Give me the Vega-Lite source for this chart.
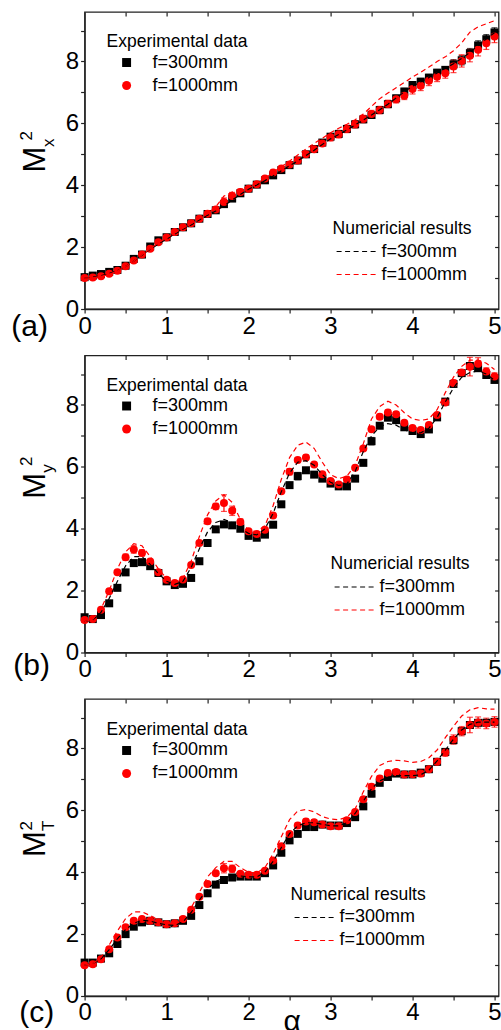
{
"$schema":"https://vega.github.io/schema/vega-lite/v6.json",
"padding":{"left":10.6,"top":10,"right":0,"bottom":0},
"background":"white",
"config":{"font":"Liberation Sans","view":{"stroke":"#222","strokeWidth":1.3},
"axis":{"grid":false,"domainColor":"#222","domainWidth":1.3,"tickColor":"#222","tickWidth":1.2,"tickSize":4,"labelFontSize":24,"labelColor":"#000","labelFont":"Liberation Sans","titleFont":"Liberation Sans","titleColor":"#000","titleFontWeight":"normal","labelFlush":false,"labelOverlap":false},
"legend":{"titleFontWeight":"normal","titleColor":"#000","labelColor":"#000","titleFont":"Liberation Sans","labelFont":"Liberation Sans"}},
"datasets":{
"ea":[
{"x":0,"s":"f=300mm","v":1.03,"e":0.04},{"x":0.1,"s":"f=300mm","v":1.08,"e":0.04},{"x":0.2,"s":"f=300mm","v":1.13,"e":0.04},{"x":0.3,"s":"f=300mm","v":1.2,"e":0.04},{"x":0.4,"s":"f=300mm","v":1.26,"e":0.04},{"x":0.5,"s":"f=300mm","v":1.4,"e":0.04},{"x":0.6,"s":"f=300mm","v":1.62,"e":0.04},{"x":0.7,"s":"f=300mm","v":1.76,"e":0.04},{"x":0.8,"s":"f=300mm","v":2.02,"e":0.04},{"x":0.9,"s":"f=300mm","v":2.22,"e":0.04},{"x":1.0,"s":"f=300mm","v":2.32,"e":0.04},{"x":1.1,"s":"f=300mm","v":2.49,"e":0.04},{"x":1.2,"s":"f=300mm","v":2.64,"e":0.04},{"x":1.3,"s":"f=300mm","v":2.77,"e":0.04},{"x":1.4,"s":"f=300mm","v":2.92,"e":0.04},{"x":1.5,"s":"f=300mm","v":3.07,"e":0.04},{"x":1.6,"s":"f=300mm","v":3.19,"e":0.04},{"x":1.7,"s":"f=300mm","v":3.39,"e":0.04},{"x":1.8,"s":"f=300mm","v":3.57,"e":0.04},{"x":1.9,"s":"f=300mm","v":3.74,"e":0.04},{"x":2.0,"s":"f=300mm","v":3.89,"e":0.06},{"x":2.1,"s":"f=300mm","v":4.02,"e":0.06},{"x":2.2,"s":"f=300mm","v":4.16,"e":0.06},{"x":2.3,"s":"f=300mm","v":4.32,"e":0.06},{"x":2.4,"s":"f=300mm","v":4.49,"e":0.06},{"x":2.5,"s":"f=300mm","v":4.65,"e":0.06},{"x":2.6,"s":"f=300mm","v":4.8,"e":0.06},{"x":2.7,"s":"f=300mm","v":5.0,"e":0.06},{"x":2.8,"s":"f=300mm","v":5.17,"e":0.06},{"x":2.9,"s":"f=300mm","v":5.38,"e":0.06},{"x":3.0,"s":"f=300mm","v":5.57,"e":0.06},{"x":3.1,"s":"f=300mm","v":5.66,"e":0.06},{"x":3.2,"s":"f=300mm","v":5.82,"e":0.06},{"x":3.3,"s":"f=300mm","v":5.97,"e":0.06},{"x":3.4,"s":"f=300mm","v":6.13,"e":0.06},{"x":3.5,"s":"f=300mm","v":6.27,"e":0.1},{"x":3.6,"s":"f=300mm","v":6.43,"e":0.1},{"x":3.7,"s":"f=300mm","v":6.62,"e":0.1},{"x":3.8,"s":"f=300mm","v":6.81,"e":0.1},{"x":3.9,"s":"f=300mm","v":7.03,"e":0.1},{"x":4.0,"s":"f=300mm","v":7.24,"e":0.1},{"x":4.1,"s":"f=300mm","v":7.35,"e":0.1},{"x":4.2,"s":"f=300mm","v":7.48,"e":0.1},{"x":4.3,"s":"f=300mm","v":7.64,"e":0.1},{"x":4.4,"s":"f=300mm","v":7.73,"e":0.1},{"x":4.5,"s":"f=300mm","v":7.91,"e":0.15},{"x":4.6,"s":"f=300mm","v":8.04,"e":0.15},{"x":4.7,"s":"f=300mm","v":8.27,"e":0.15},{"x":4.8,"s":"f=300mm","v":8.52,"e":0.15},{"x":4.9,"s":"f=300mm","v":8.72,"e":0.15},{"x":5.0,"s":"f=300mm","v":8.94,"e":0.15},
{"x":0,"s":"f=1000mm","v":1.0,"e":0.04},{"x":0.1,"s":"f=1000mm","v":1.02,"e":0.04},{"x":0.2,"s":"f=1000mm","v":1.06,"e":0.04},{"x":0.3,"s":"f=1000mm","v":1.14,"e":0.04},{"x":0.4,"s":"f=1000mm","v":1.24,"e":0.04},{"x":0.5,"s":"f=1000mm","v":1.38,"e":0.04},{"x":0.6,"s":"f=1000mm","v":1.57,"e":0.04},{"x":0.7,"s":"f=1000mm","v":1.76,"e":0.04},{"x":0.8,"s":"f=1000mm","v":1.95,"e":0.04},{"x":0.9,"s":"f=1000mm","v":2.16,"e":0.04},{"x":1.0,"s":"f=1000mm","v":2.31,"e":0.04},{"x":1.1,"s":"f=1000mm","v":2.49,"e":0.04},{"x":1.2,"s":"f=1000mm","v":2.64,"e":0.04},{"x":1.3,"s":"f=1000mm","v":2.77,"e":0.04},{"x":1.4,"s":"f=1000mm","v":2.92,"e":0.04},{"x":1.5,"s":"f=1000mm","v":3.08,"e":0.04},{"x":1.6,"s":"f=1000mm","v":3.22,"e":0.08},{"x":1.7,"s":"f=1000mm","v":3.46,"e":0.13},{"x":1.8,"s":"f=1000mm","v":3.65,"e":0.12},{"x":1.9,"s":"f=1000mm","v":3.78,"e":0.1},{"x":2.0,"s":"f=1000mm","v":3.89,"e":0.07},{"x":2.1,"s":"f=1000mm","v":4.03,"e":0.07},{"x":2.2,"s":"f=1000mm","v":4.22,"e":0.07},{"x":2.3,"s":"f=1000mm","v":4.41,"e":0.07},{"x":2.4,"s":"f=1000mm","v":4.54,"e":0.07},{"x":2.5,"s":"f=1000mm","v":4.67,"e":0.07},{"x":2.6,"s":"f=1000mm","v":4.8,"e":0.07},{"x":2.7,"s":"f=1000mm","v":5.0,"e":0.07},{"x":2.8,"s":"f=1000mm","v":5.16,"e":0.07},{"x":2.9,"s":"f=1000mm","v":5.35,"e":0.07},{"x":3.0,"s":"f=1000mm","v":5.55,"e":0.12},{"x":3.1,"s":"f=1000mm","v":5.65,"e":0.12},{"x":3.2,"s":"f=1000mm","v":5.82,"e":0.12},{"x":3.3,"s":"f=1000mm","v":5.97,"e":0.12},{"x":3.4,"s":"f=1000mm","v":6.14,"e":0.12},{"x":3.5,"s":"f=1000mm","v":6.3,"e":0.12},{"x":3.6,"s":"f=1000mm","v":6.43,"e":0.12},{"x":3.7,"s":"f=1000mm","v":6.63,"e":0.12},{"x":3.8,"s":"f=1000mm","v":6.78,"e":0.12},{"x":3.9,"s":"f=1000mm","v":6.89,"e":0.12},{"x":4.0,"s":"f=1000mm","v":7.11,"e":0.16},{"x":4.1,"s":"f=1000mm","v":7.22,"e":0.16},{"x":4.2,"s":"f=1000mm","v":7.38,"e":0.16},{"x":4.3,"s":"f=1000mm","v":7.51,"e":0.16},{"x":4.4,"s":"f=1000mm","v":7.62,"e":0.16},{"x":4.5,"s":"f=1000mm","v":7.84,"e":0.2},{"x":4.6,"s":"f=1000mm","v":8.02,"e":0.2},{"x":4.7,"s":"f=1000mm","v":8.19,"e":0.2},{"x":4.8,"s":"f=1000mm","v":8.38,"e":0.2},{"x":4.9,"s":"f=1000mm","v":8.59,"e":0.2},{"x":5.0,"s":"f=1000mm","v":8.81,"e":0.2}
],
"eb":[
{"x":0,"s":"f=300mm","v":1.14,"e":0.04},{"x":0.1,"s":"f=300mm","v":1.08,"e":0.04},{"x":0.2,"s":"f=300mm","v":1.21,"e":0.04},{"x":0.3,"s":"f=300mm","v":1.59,"e":0.04},{"x":0.4,"s":"f=300mm","v":2.09,"e":0.04},{"x":0.5,"s":"f=300mm","v":2.59,"e":0.04},{"x":0.6,"s":"f=300mm","v":2.89,"e":0.04},{"x":0.7,"s":"f=300mm","v":2.92,"e":0.04},{"x":0.8,"s":"f=300mm","v":2.79,"e":0.04},{"x":0.9,"s":"f=300mm","v":2.57,"e":0.04},{"x":1.0,"s":"f=300mm","v":2.3,"e":0.04},{"x":1.1,"s":"f=300mm","v":2.18,"e":0.04},{"x":1.2,"s":"f=300mm","v":2.22,"e":0.04},{"x":1.3,"s":"f=300mm","v":2.41,"e":0.04},{"x":1.4,"s":"f=300mm","v":2.95,"e":0.04},{"x":1.5,"s":"f=300mm","v":3.54,"e":0.04},{"x":1.6,"s":"f=300mm","v":3.98,"e":0.04},{"x":1.7,"s":"f=300mm","v":4.14,"e":0.04},{"x":1.8,"s":"f=300mm","v":4.11,"e":0.04},{"x":1.9,"s":"f=300mm","v":4.0,"e":0.04},{"x":2.0,"s":"f=300mm","v":3.77,"e":0.04},{"x":2.1,"s":"f=300mm","v":3.71,"e":0.04},{"x":2.2,"s":"f=300mm","v":3.81,"e":0.04},{"x":2.3,"s":"f=300mm","v":4.13,"e":0.04},{"x":2.4,"s":"f=300mm","v":4.79,"e":0.04},{"x":2.5,"s":"f=300mm","v":5.41,"e":0.04},{"x":2.6,"s":"f=300mm","v":5.7,"e":0.12},{"x":2.7,"s":"f=300mm","v":5.89,"e":0.08},{"x":2.8,"s":"f=300mm","v":5.75,"e":0.04},{"x":2.9,"s":"f=300mm","v":5.62,"e":0.04},{"x":3.0,"s":"f=300mm","v":5.46,"e":0.04},{"x":3.1,"s":"f=300mm","v":5.37,"e":0.04},{"x":3.2,"s":"f=300mm","v":5.37,"e":0.04},{"x":3.3,"s":"f=300mm","v":5.62,"e":0.04},{"x":3.4,"s":"f=300mm","v":6.13,"e":0.04},{"x":3.5,"s":"f=300mm","v":6.83,"e":0.12},{"x":3.6,"s":"f=300mm","v":7.33,"e":0.04},{"x":3.7,"s":"f=300mm","v":7.59,"e":0.04},{"x":3.8,"s":"f=300mm","v":7.51,"e":0.04},{"x":3.9,"s":"f=300mm","v":7.28,"e":0.04},{"x":4.0,"s":"f=300mm","v":7.16,"e":0.04},{"x":4.1,"s":"f=300mm","v":7.06,"e":0.04},{"x":4.2,"s":"f=300mm","v":7.21,"e":0.04},{"x":4.3,"s":"f=300mm","v":7.6,"e":0.04},{"x":4.4,"s":"f=300mm","v":8.11,"e":0.04},{"x":4.5,"s":"f=300mm","v":8.68,"e":0.04},{"x":4.6,"s":"f=300mm","v":9.03,"e":0.04},{"x":4.7,"s":"f=300mm","v":9.26,"e":0.1},{"x":4.8,"s":"f=300mm","v":9.19,"e":0.06},{"x":4.9,"s":"f=300mm","v":8.97,"e":0.04},{"x":5.0,"s":"f=300mm","v":8.81,"e":0.04},
{"x":0,"s":"f=1000mm","v":1.05,"e":0.05},{"x":0.1,"s":"f=1000mm","v":1.08,"e":0.05},{"x":0.2,"s":"f=1000mm","v":1.38,"e":0.05},{"x":0.3,"s":"f=1000mm","v":1.98,"e":0.05},{"x":0.4,"s":"f=1000mm","v":2.59,"e":0.05},{"x":0.5,"s":"f=1000mm","v":3.08,"e":0.1},{"x":0.6,"s":"f=1000mm","v":3.33,"e":0.12},{"x":0.7,"s":"f=1000mm","v":3.22,"e":0.1},{"x":0.8,"s":"f=1000mm","v":2.94,"e":0.05},{"x":0.9,"s":"f=1000mm","v":2.59,"e":0.05},{"x":1.0,"s":"f=1000mm","v":2.35,"e":0.05},{"x":1.1,"s":"f=1000mm","v":2.25,"e":0.05},{"x":1.2,"s":"f=1000mm","v":2.36,"e":0.05},{"x":1.3,"s":"f=1000mm","v":2.83,"e":0.05},{"x":1.4,"s":"f=1000mm","v":3.54,"e":0.05},{"x":1.5,"s":"f=1000mm","v":4.24,"e":0.08},{"x":1.6,"s":"f=1000mm","v":4.72,"e":0.1},{"x":1.7,"s":"f=1000mm","v":4.83,"e":0.27},{"x":1.8,"s":"f=1000mm","v":4.58,"e":0.15},{"x":1.9,"s":"f=1000mm","v":4.22,"e":0.1},{"x":2.0,"s":"f=1000mm","v":3.92,"e":0.05},{"x":2.1,"s":"f=1000mm","v":3.83,"e":0.05},{"x":2.2,"s":"f=1000mm","v":3.97,"e":0.05},{"x":2.3,"s":"f=1000mm","v":4.43,"e":0.05},{"x":2.4,"s":"f=1000mm","v":5.21,"e":0.05},{"x":2.5,"s":"f=1000mm","v":5.84,"e":0.1},{"x":2.6,"s":"f=1000mm","v":6.22,"e":0.08},{"x":2.7,"s":"f=1000mm","v":6.3,"e":0.08},{"x":2.8,"s":"f=1000mm","v":6.08,"e":0.05},{"x":2.9,"s":"f=1000mm","v":5.76,"e":0.05},{"x":3.0,"s":"f=1000mm","v":5.54,"e":0.05},{"x":3.1,"s":"f=1000mm","v":5.43,"e":0.05},{"x":3.2,"s":"f=1000mm","v":5.59,"e":0.05},{"x":3.3,"s":"f=1000mm","v":5.97,"e":0.05},{"x":3.4,"s":"f=1000mm","v":6.59,"e":0.05},{"x":3.5,"s":"f=1000mm","v":7.22,"e":0.05},{"x":3.6,"s":"f=1000mm","v":7.62,"e":0.08},{"x":3.7,"s":"f=1000mm","v":7.76,"e":0.08},{"x":3.8,"s":"f=1000mm","v":7.7,"e":0.08},{"x":3.9,"s":"f=1000mm","v":7.43,"e":0.05},{"x":4.0,"s":"f=1000mm","v":7.26,"e":0.05},{"x":4.1,"s":"f=1000mm","v":7.19,"e":0.05},{"x":4.2,"s":"f=1000mm","v":7.35,"e":0.05},{"x":4.3,"s":"f=1000mm","v":7.68,"e":0.05},{"x":4.4,"s":"f=1000mm","v":8.08,"e":0.05},{"x":4.5,"s":"f=1000mm","v":8.71,"e":0.1},{"x":4.6,"s":"f=1000mm","v":9.05,"e":0.08},{"x":4.7,"s":"f=1000mm","v":9.24,"e":0.3},{"x":4.8,"s":"f=1000mm","v":9.33,"e":0.2},{"x":4.9,"s":"f=1000mm","v":9.08,"e":0.12},{"x":5.0,"s":"f=1000mm","v":8.92,"e":0.12}
],
"ec":[
{"x":0,"s":"f=300mm","v":1.08,"e":0.04},{"x":0.1,"s":"f=300mm","v":1.08,"e":0.04},{"x":0.2,"s":"f=300mm","v":1.21,"e":0.04},{"x":0.3,"s":"f=300mm","v":1.38,"e":0.04},{"x":0.4,"s":"f=300mm","v":1.68,"e":0.04},{"x":0.5,"s":"f=300mm","v":2.0,"e":0.04},{"x":0.6,"s":"f=300mm","v":2.24,"e":0.04},{"x":0.7,"s":"f=300mm","v":2.38,"e":0.04},{"x":0.8,"s":"f=300mm","v":2.43,"e":0.04},{"x":0.9,"s":"f=300mm","v":2.38,"e":0.04},{"x":1.0,"s":"f=300mm","v":2.32,"e":0.04},{"x":1.1,"s":"f=300mm","v":2.35,"e":0.04},{"x":1.2,"s":"f=300mm","v":2.43,"e":0.04},{"x":1.3,"s":"f=300mm","v":2.59,"e":0.04},{"x":1.4,"s":"f=300mm","v":2.94,"e":0.04},{"x":1.5,"s":"f=300mm","v":3.32,"e":0.04},{"x":1.6,"s":"f=300mm","v":3.6,"e":0.04},{"x":1.7,"s":"f=300mm","v":3.75,"e":0.04},{"x":1.8,"s":"f=300mm","v":3.83,"e":0.04},{"x":1.9,"s":"f=300mm","v":3.86,"e":0.04},{"x":2.0,"s":"f=300mm","v":3.86,"e":0.04},{"x":2.1,"s":"f=300mm","v":3.86,"e":0.04},{"x":2.2,"s":"f=300mm","v":3.97,"e":0.04},{"x":2.3,"s":"f=300mm","v":4.22,"e":0.04},{"x":2.4,"s":"f=300mm","v":4.63,"e":0.04},{"x":2.5,"s":"f=300mm","v":5.03,"e":0.04},{"x":2.6,"s":"f=300mm","v":5.24,"e":0.08},{"x":2.7,"s":"f=300mm","v":5.46,"e":0.04},{"x":2.8,"s":"f=300mm","v":5.46,"e":0.04},{"x":2.9,"s":"f=300mm","v":5.54,"e":0.04},{"x":3.0,"s":"f=300mm","v":5.51,"e":0.04},{"x":3.1,"s":"f=300mm","v":5.51,"e":0.04},{"x":3.2,"s":"f=300mm","v":5.59,"e":0.04},{"x":3.3,"s":"f=300mm","v":5.78,"e":0.04},{"x":3.4,"s":"f=300mm","v":6.13,"e":0.04},{"x":3.5,"s":"f=300mm","v":6.54,"e":0.1},{"x":3.6,"s":"f=300mm","v":6.89,"e":0.04},{"x":3.7,"s":"f=300mm","v":7.08,"e":0.04},{"x":3.8,"s":"f=300mm","v":7.19,"e":0.04},{"x":3.9,"s":"f=300mm","v":7.16,"e":0.04},{"x":4.0,"s":"f=300mm","v":7.16,"e":0.04},{"x":4.1,"s":"f=300mm","v":7.22,"e":0.04},{"x":4.2,"s":"f=300mm","v":7.33,"e":0.04},{"x":4.3,"s":"f=300mm","v":7.57,"e":0.04},{"x":4.4,"s":"f=300mm","v":7.89,"e":0.04},{"x":4.5,"s":"f=300mm","v":8.27,"e":0.04},{"x":4.6,"s":"f=300mm","v":8.56,"e":0.04},{"x":4.7,"s":"f=300mm","v":8.76,"e":0.1},{"x":4.8,"s":"f=300mm","v":8.83,"e":0.04},{"x":4.9,"s":"f=300mm","v":8.83,"e":0.04},{"x":5.0,"s":"f=300mm","v":8.86,"e":0.04},
{"x":0,"s":"f=1000mm","v":0.99,"e":0.05},{"x":0.1,"s":"f=1000mm","v":1.03,"e":0.05},{"x":0.2,"s":"f=1000mm","v":1.19,"e":0.05},{"x":0.3,"s":"f=1000mm","v":1.51,"e":0.05},{"x":0.4,"s":"f=1000mm","v":1.89,"e":0.05},{"x":0.5,"s":"f=1000mm","v":2.22,"e":0.05},{"x":0.6,"s":"f=1000mm","v":2.43,"e":0.05},{"x":0.7,"s":"f=1000mm","v":2.49,"e":0.05},{"x":0.8,"s":"f=1000mm","v":2.43,"e":0.05},{"x":0.9,"s":"f=1000mm","v":2.38,"e":0.05},{"x":1.0,"s":"f=1000mm","v":2.32,"e":0.05},{"x":1.1,"s":"f=1000mm","v":2.35,"e":0.05},{"x":1.2,"s":"f=1000mm","v":2.49,"e":0.05},{"x":1.3,"s":"f=1000mm","v":2.79,"e":0.05},{"x":1.4,"s":"f=1000mm","v":3.21,"e":0.05},{"x":1.5,"s":"f=1000mm","v":3.62,"e":0.05},{"x":1.6,"s":"f=1000mm","v":3.97,"e":0.05},{"x":1.7,"s":"f=1000mm","v":4.13,"e":0.15},{"x":1.8,"s":"f=1000mm","v":4.11,"e":0.12},{"x":1.9,"s":"f=1000mm","v":3.95,"e":0.05},{"x":2.0,"s":"f=1000mm","v":3.92,"e":0.05},{"x":2.1,"s":"f=1000mm","v":3.92,"e":0.05},{"x":2.2,"s":"f=1000mm","v":4.05,"e":0.05},{"x":2.3,"s":"f=1000mm","v":4.38,"e":0.05},{"x":2.4,"s":"f=1000mm","v":4.84,"e":0.05},{"x":2.5,"s":"f=1000mm","v":5.24,"e":0.05},{"x":2.6,"s":"f=1000mm","v":5.51,"e":0.08},{"x":2.7,"s":"f=1000mm","v":5.64,"e":0.08},{"x":2.8,"s":"f=1000mm","v":5.62,"e":0.08},{"x":2.9,"s":"f=1000mm","v":5.54,"e":0.05},{"x":3.0,"s":"f=1000mm","v":5.49,"e":0.05},{"x":3.1,"s":"f=1000mm","v":5.49,"e":0.05},{"x":3.2,"s":"f=1000mm","v":5.68,"e":0.05},{"x":3.3,"s":"f=1000mm","v":5.95,"e":0.05},{"x":3.4,"s":"f=1000mm","v":6.36,"e":0.05},{"x":3.5,"s":"f=1000mm","v":6.76,"e":0.08},{"x":3.6,"s":"f=1000mm","v":7.03,"e":0.08},{"x":3.7,"s":"f=1000mm","v":7.21,"e":0.08},{"x":3.8,"s":"f=1000mm","v":7.24,"e":0.08},{"x":3.9,"s":"f=1000mm","v":7.16,"e":0.05},{"x":4.0,"s":"f=1000mm","v":7.17,"e":0.1},{"x":4.1,"s":"f=1000mm","v":7.19,"e":0.1},{"x":4.2,"s":"f=1000mm","v":7.33,"e":0.1},{"x":4.3,"s":"f=1000mm","v":7.57,"e":0.1},{"x":4.4,"s":"f=1000mm","v":7.87,"e":0.12},{"x":4.5,"s":"f=1000mm","v":8.29,"e":0.15},{"x":4.6,"s":"f=1000mm","v":8.56,"e":0.15},{"x":4.7,"s":"f=1000mm","v":8.76,"e":0.25},{"x":4.8,"s":"f=1000mm","v":8.84,"e":0.18},{"x":4.9,"s":"f=1000mm","v":8.81,"e":0.17},{"x":5.0,"s":"f=1000mm","v":8.86,"e":0.17}
],
"na":[
{"x":0,"n":"300","v":1.0},{"x":0.1,"n":"300","v":1.03},{"x":0.2,"n":"300","v":1.08},{"x":0.3,"n":"300","v":1.15},{"x":0.4,"n":"300","v":1.24},{"x":0.5,"n":"300","v":1.37},{"x":0.6,"n":"300","v":1.55},{"x":0.7,"n":"300","v":1.74},{"x":0.8,"n":"300","v":1.93},{"x":0.9,"n":"300","v":2.1},{"x":1.0,"n":"300","v":2.26},{"x":1.1,"n":"300","v":2.42},{"x":1.2,"n":"300","v":2.58},{"x":1.3,"n":"300","v":2.72},{"x":1.4,"n":"300","v":2.88},{"x":1.5,"n":"300","v":3.03},{"x":1.6,"n":"300","v":3.17},{"x":1.7,"n":"300","v":3.33},{"x":1.8,"n":"300","v":3.52},{"x":1.9,"n":"300","v":3.7},{"x":2.0,"n":"300","v":3.87},{"x":2.1,"n":"300","v":4.01},{"x":2.2,"n":"300","v":4.15},{"x":2.3,"n":"300","v":4.3},{"x":2.4,"n":"300","v":4.47},{"x":2.5,"n":"300","v":4.63},{"x":2.6,"n":"300","v":4.79},{"x":2.7,"n":"300","v":4.96},{"x":2.8,"n":"300","v":5.13},{"x":2.9,"n":"300","v":5.32},{"x":3.0,"n":"300","v":5.5},{"x":3.1,"n":"300","v":5.64},{"x":3.2,"n":"300","v":5.79},{"x":3.3,"n":"300","v":5.95},{"x":3.4,"n":"300","v":6.11},{"x":3.5,"n":"300","v":6.27},{"x":3.6,"n":"300","v":6.44},{"x":3.7,"n":"300","v":6.62},{"x":3.8,"n":"300","v":6.82},{"x":3.9,"n":"300","v":7.02},{"x":4.0,"n":"300","v":7.2},{"x":4.1,"n":"300","v":7.34},{"x":4.2,"n":"300","v":7.48},{"x":4.3,"n":"300","v":7.63},{"x":4.4,"n":"300","v":7.78},{"x":4.5,"n":"300","v":7.93},{"x":4.6,"n":"300","v":8.1},{"x":4.7,"n":"300","v":8.3},{"x":4.8,"n":"300","v":8.52},{"x":4.9,"n":"300","v":8.73},{"x":5.0,"n":"300","v":8.93},
{"x":0,"n":"1000","v":1.0},{"x":0.1,"n":"1000","v":1.01},{"x":0.2,"n":"1000","v":1.05},{"x":0.3,"n":"1000","v":1.12},{"x":0.4,"n":"1000","v":1.23},{"x":0.5,"n":"1000","v":1.37},{"x":0.6,"n":"1000","v":1.55},{"x":0.7,"n":"1000","v":1.75},{"x":0.8,"n":"1000","v":1.95},{"x":0.9,"n":"1000","v":2.14},{"x":1.0,"n":"1000","v":2.3},{"x":1.1,"n":"1000","v":2.46},{"x":1.2,"n":"1000","v":2.61},{"x":1.3,"n":"1000","v":2.76},{"x":1.4,"n":"1000","v":2.92},{"x":1.5,"n":"1000","v":3.08},{"x":1.6,"n":"1000","v":3.3},{"x":1.7,"n":"1000","v":3.65},{"x":1.8,"n":"1000","v":3.78},{"x":1.9,"n":"1000","v":3.88},{"x":2.0,"n":"1000","v":3.95},{"x":2.1,"n":"1000","v":4.05},{"x":2.2,"n":"1000","v":4.22},{"x":2.3,"n":"1000","v":4.42},{"x":2.4,"n":"1000","v":4.6},{"x":2.5,"n":"1000","v":4.78},{"x":2.6,"n":"1000","v":4.98},{"x":2.7,"n":"1000","v":5.17},{"x":2.8,"n":"1000","v":5.35},{"x":2.9,"n":"1000","v":5.52},{"x":3.0,"n":"1000","v":5.7},{"x":3.1,"n":"1000","v":5.84},{"x":3.2,"n":"1000","v":5.97},{"x":3.3,"n":"1000","v":6.12},{"x":3.4,"n":"1000","v":6.3},{"x":3.5,"n":"1000","v":6.55},{"x":3.6,"n":"1000","v":6.8},{"x":3.7,"n":"1000","v":6.98},{"x":3.8,"n":"1000","v":7.15},{"x":3.9,"n":"1000","v":7.32},{"x":4.0,"n":"1000","v":7.5},{"x":4.1,"n":"1000","v":7.65},{"x":4.2,"n":"1000","v":7.82},{"x":4.3,"n":"1000","v":8.0},{"x":4.4,"n":"1000","v":8.15},{"x":4.5,"n":"1000","v":8.35},{"x":4.6,"n":"1000","v":8.6},{"x":4.7,"n":"1000","v":8.95},{"x":4.8,"n":"1000","v":9.12},{"x":4.9,"n":"1000","v":9.22},{"x":5.0,"n":"1000","v":9.32}
],
"nb":[
{"x":0,"n":"300","v":1.0},{"x":0.1,"n":"300","v":1.05},{"x":0.2,"n":"300","v":1.3},{"x":0.3,"n":"300","v":1.75},{"x":0.4,"n":"300","v":2.3},{"x":0.5,"n":"300","v":2.8},{"x":0.6,"n":"300","v":3.1},{"x":0.7,"n":"300","v":3.1},{"x":0.8,"n":"300","v":2.85},{"x":0.9,"n":"300","v":2.55},{"x":1.0,"n":"300","v":2.3},{"x":1.1,"n":"300","v":2.2},{"x":1.2,"n":"300","v":2.3},{"x":1.3,"n":"300","v":2.75},{"x":1.4,"n":"300","v":3.35},{"x":1.5,"n":"300","v":3.9},{"x":1.6,"n":"300","v":4.2},{"x":1.7,"n":"300","v":4.3},{"x":1.8,"n":"300","v":4.2},{"x":1.9,"n":"300","v":4.0},{"x":2.0,"n":"300","v":3.85},{"x":2.1,"n":"300","v":3.8},{"x":2.2,"n":"300","v":4.0},{"x":2.3,"n":"300","v":4.5},{"x":2.4,"n":"300","v":5.2},{"x":2.5,"n":"300","v":5.8},{"x":2.6,"n":"300","v":6.15},{"x":2.7,"n":"300","v":6.2},{"x":2.8,"n":"300","v":6.05},{"x":2.9,"n":"300","v":5.75},{"x":3.0,"n":"300","v":5.5},{"x":3.1,"n":"300","v":5.4},{"x":3.2,"n":"300","v":5.45},{"x":3.3,"n":"300","v":5.85},{"x":3.4,"n":"300","v":6.5},{"x":3.5,"n":"300","v":7.0},{"x":3.6,"n":"300","v":7.3},{"x":3.7,"n":"300","v":7.4},{"x":3.8,"n":"300","v":7.35},{"x":3.9,"n":"300","v":7.2},{"x":4.0,"n":"300","v":7.1},{"x":4.1,"n":"300","v":7.1},{"x":4.2,"n":"300","v":7.25},{"x":4.3,"n":"300","v":7.6},{"x":4.4,"n":"300","v":8.1},{"x":4.5,"n":"300","v":8.55},{"x":4.6,"n":"300","v":8.9},{"x":4.7,"n":"300","v":9.05},{"x":4.8,"n":"300","v":9.1},{"x":4.9,"n":"300","v":9.0},{"x":5.0,"n":"300","v":8.8},
{"x":0,"n":"1000","v":1.0},{"x":0.1,"n":"1000","v":1.07},{"x":0.2,"n":"1000","v":1.4},{"x":0.3,"n":"1000","v":2.0},{"x":0.4,"n":"1000","v":2.7},{"x":0.5,"n":"1000","v":3.25},{"x":0.6,"n":"1000","v":3.52},{"x":0.7,"n":"1000","v":3.45},{"x":0.8,"n":"1000","v":3.1},{"x":0.9,"n":"1000","v":2.7},{"x":1.0,"n":"1000","v":2.4},{"x":1.1,"n":"1000","v":2.28},{"x":1.2,"n":"1000","v":2.4},{"x":1.3,"n":"1000","v":2.95},{"x":1.4,"n":"1000","v":3.75},{"x":1.5,"n":"1000","v":4.45},{"x":1.6,"n":"1000","v":4.9},{"x":1.7,"n":"1000","v":5.1},{"x":1.8,"n":"1000","v":4.85},{"x":1.9,"n":"1000","v":4.3},{"x":2.0,"n":"1000","v":3.95},{"x":2.1,"n":"1000","v":3.9},{"x":2.2,"n":"1000","v":4.1},{"x":2.3,"n":"1000","v":4.75},{"x":2.4,"n":"1000","v":5.6},{"x":2.5,"n":"1000","v":6.3},{"x":2.6,"n":"1000","v":6.7},{"x":2.7,"n":"1000","v":6.8},{"x":2.8,"n":"1000","v":6.6},{"x":2.9,"n":"1000","v":6.15},{"x":3.0,"n":"1000","v":5.75},{"x":3.1,"n":"1000","v":5.62},{"x":3.2,"n":"1000","v":5.7},{"x":3.3,"n":"1000","v":6.05},{"x":3.4,"n":"1000","v":6.75},{"x":3.5,"n":"1000","v":7.55},{"x":3.6,"n":"1000","v":7.95},{"x":3.7,"n":"1000","v":8.12},{"x":3.8,"n":"1000","v":8.0},{"x":3.9,"n":"1000","v":7.75},{"x":4.0,"n":"1000","v":7.55},{"x":4.1,"n":"1000","v":7.5},{"x":4.2,"n":"1000","v":7.55},{"x":4.3,"n":"1000","v":7.85},{"x":4.4,"n":"1000","v":8.4},{"x":4.5,"n":"1000","v":8.9},{"x":4.6,"n":"1000","v":9.25},{"x":4.7,"n":"1000","v":9.45},{"x":4.8,"n":"1000","v":9.45},{"x":4.9,"n":"1000","v":9.35},{"x":5.0,"n":"1000","v":9.15}
],
"nc":[
{"x":0,"n":"300","v":1.0},{"x":0.1,"n":"300","v":1.05},{"x":0.2,"n":"300","v":1.2},{"x":0.3,"n":"300","v":1.5},{"x":0.4,"n":"300","v":1.85},{"x":0.5,"n":"300","v":2.15},{"x":0.6,"n":"300","v":2.35},{"x":0.7,"n":"300","v":2.45},{"x":0.8,"n":"300","v":2.42},{"x":0.9,"n":"300","v":2.35},{"x":1.0,"n":"300","v":2.3},{"x":1.1,"n":"300","v":2.28},{"x":1.2,"n":"300","v":2.4},{"x":1.3,"n":"300","v":2.7},{"x":1.4,"n":"300","v":3.1},{"x":1.5,"n":"300","v":3.45},{"x":1.6,"n":"300","v":3.7},{"x":1.7,"n":"300","v":3.82},{"x":1.8,"n":"300","v":3.88},{"x":1.9,"n":"300","v":3.88},{"x":2.0,"n":"300","v":3.85},{"x":2.1,"n":"300","v":3.85},{"x":2.2,"n":"300","v":4.0},{"x":2.3,"n":"300","v":4.35},{"x":2.4,"n":"300","v":4.8},{"x":2.5,"n":"300","v":5.25},{"x":2.6,"n":"300","v":5.5},{"x":2.7,"n":"300","v":5.6},{"x":2.8,"n":"300","v":5.6},{"x":2.9,"n":"300","v":5.55},{"x":3.0,"n":"300","v":5.5},{"x":3.1,"n":"300","v":5.5},{"x":3.2,"n":"300","v":5.6},{"x":3.3,"n":"300","v":5.9},{"x":3.4,"n":"300","v":6.3},{"x":3.5,"n":"300","v":6.7},{"x":3.6,"n":"300","v":6.95},{"x":3.7,"n":"300","v":7.08},{"x":3.8,"n":"300","v":7.12},{"x":3.9,"n":"300","v":7.12},{"x":4.0,"n":"300","v":7.12},{"x":4.1,"n":"300","v":7.15},{"x":4.2,"n":"300","v":7.3},{"x":4.3,"n":"300","v":7.6},{"x":4.4,"n":"300","v":7.95},{"x":4.5,"n":"300","v":8.3},{"x":4.6,"n":"300","v":8.6},{"x":4.7,"n":"300","v":8.78},{"x":4.8,"n":"300","v":8.85},{"x":4.9,"n":"300","v":8.85},{"x":5.0,"n":"300","v":8.85},
{"x":0,"n":"1000","v":1.0},{"x":0.1,"n":"1000","v":1.05},{"x":0.2,"n":"1000","v":1.25},{"x":0.3,"n":"1000","v":1.65},{"x":0.4,"n":"1000","v":2.1},{"x":0.5,"n":"1000","v":2.5},{"x":0.6,"n":"1000","v":2.72},{"x":0.7,"n":"1000","v":2.72},{"x":0.8,"n":"1000","v":2.6},{"x":0.9,"n":"1000","v":2.45},{"x":1.0,"n":"1000","v":2.35},{"x":1.1,"n":"1000","v":2.33},{"x":1.2,"n":"1000","v":2.45},{"x":1.3,"n":"1000","v":2.85},{"x":1.4,"n":"1000","v":3.35},{"x":1.5,"n":"1000","v":3.85},{"x":1.6,"n":"1000","v":4.15},{"x":1.7,"n":"1000","v":4.35},{"x":1.8,"n":"1000","v":4.35},{"x":1.9,"n":"1000","v":4.15},{"x":2.0,"n":"1000","v":4.0},{"x":2.1,"n":"1000","v":3.98},{"x":2.2,"n":"1000","v":4.15},{"x":2.3,"n":"1000","v":4.6},{"x":2.4,"n":"1000","v":5.15},{"x":2.5,"n":"1000","v":5.7},{"x":2.6,"n":"1000","v":5.98},{"x":2.7,"n":"1000","v":6.03},{"x":2.8,"n":"1000","v":5.95},{"x":2.9,"n":"1000","v":5.8},{"x":3.0,"n":"1000","v":5.72},{"x":3.1,"n":"1000","v":5.7},{"x":3.2,"n":"1000","v":5.78},{"x":3.3,"n":"1000","v":6.05},{"x":3.4,"n":"1000","v":6.6},{"x":3.5,"n":"1000","v":7.1},{"x":3.6,"n":"1000","v":7.45},{"x":3.7,"n":"1000","v":7.58},{"x":3.8,"n":"1000","v":7.62},{"x":3.9,"n":"1000","v":7.6},{"x":4.0,"n":"1000","v":7.55},{"x":4.1,"n":"1000","v":7.58},{"x":4.2,"n":"1000","v":7.7},{"x":4.3,"n":"1000","v":7.95},{"x":4.4,"n":"1000","v":8.35},{"x":4.5,"n":"1000","v":8.72},{"x":4.6,"n":"1000","v":9.05},{"x":4.7,"n":"1000","v":9.25},{"x":4.8,"n":"1000","v":9.32},{"x":4.9,"n":"1000","v":9.28},{"x":5.0,"n":"1000","v":9.27}
]
},
"spacing":46.5,
"bounds":"flush",
"resolve":{"scale":{"fill":"independent","shape":"independent","stroke":"independent"},"legend":{"fill":"independent","shape":"independent","stroke":"independent"}},
"vconcat":[
{"width":414,"height":297,"resolve":{"axis":{"x":"independent","y":"independent"}},
"layer":[
{"data":{"name":"ea"},"transform":[{"filter":"datum.s === 'f=300mm'"}],"mark":{"type":"errorbar","color":"#000000","ticks":{"size":6,"thickness":1.2},"thickness":1.2},
"encoding":{"x":{"field":"x","type":"quantitative","scale":{"domain":[0,5.05],"nice":false,"zero":false},"axis":null},"y":{"field":"v","type":"quantitative","scale":{"domain":[0,9.6],"nice":false,"zero":false},"axis":null},"yError":{"field":"e"}}},
{"data":{"name":"ea"},"transform":[{"filter":"datum.s === 'f=1000mm'"}],"mark":{"type":"errorbar","color":"#ff0000","ticks":{"size":6,"thickness":1.2},"thickness":1.2},
"encoding":{"x":{"field":"x","type":"quantitative","scale":{"domain":[0,5.05],"nice":false,"zero":false},"axis":null},"y":{"field":"v","type":"quantitative","scale":{"domain":[0,9.6],"nice":false,"zero":false},"axis":null},"yError":{"field":"e"}}},
{"data":{"name":"ea"},"mark":{"type":"point","filled":true,"opacity":1,"strokeWidth":0,"size":64},
"encoding":{"x":{"field":"x","type":"quantitative","scale":{"domain":[0,5.05],"nice":false,"zero":false},"axis":{"orient":"bottom","values":[0,0.5,1,1.5,2,2.5,3,3.5,4,4.5,5],"labelExpr":"datum.value % 1 === 0 ? format(datum.value,'d') : ''","title":null,"labelPadding":1}},
"y":{"field":"v","type":"quantitative","scale":{"domain":[0,9.6],"nice":false,"zero":false},"axis":{"orient":"left","values":[0,1,2,3,4,5,6,7,8,9],"labelExpr":"datum.value % 2 === 0 ? format(datum.value,'d') : ''","title":null,"labelPadding":2}},
"fill":{"field":"s","type":"nominal","scale":{"domain":["f=300mm","f=1000mm"],"range":["#000000","#ff0000"]},"legend":{"title":"Experimental data","orient":"none","legendX":22,"legendY":21,"titleFontSize":17.5,"labelFontSize":18,"symbolSize":80,"symbolOffset":11,"labelOffset":17,"rowPadding":5,"titlePadding":3,"symbolStrokeWidth":0}},
"shape":{"field":"s","type":"nominal","scale":{"domain":["f=300mm","f=1000mm"],"range":["square","circle"]},"legend":{"title":"Experimental data","orient":"none","legendX":22,"legendY":21,"titleFontSize":17.5,"labelFontSize":18,"symbolSize":80,"symbolOffset":11,"labelOffset":17,"rowPadding":5,"titlePadding":3,"symbolStrokeWidth":0}}}},
{"data":{"name":"na"},"mark":{"type":"line","strokeDash":[5,3.5],"strokeWidth":1.2},
"encoding":{"x":{"field":"x","type":"quantitative","scale":{"domain":[0,5.05],"nice":false,"zero":false},"axis":{"orient":"top","values":[0.5,1,1.5,2,2.5,3,3.5,4,4.5,5],"labels":false,"title":null,"domain":false,"tickSize":-4}},
"y":{"field":"v","type":"quantitative","scale":{"domain":[0,9.6],"nice":false,"zero":false},"axis":{"orient":"right","values":[1,2,3,4,5,6,7,8,9],"labels":false,"title":null,"domain":false,"tickSize":-4}},
"stroke":{"field":"n","type":"nominal","scale":{"domain":["300","1000"],"range":["#000000","#ff0000"]},"legend":{"title":"Numericial results","orient":"none","legendX":248,"legendY":208,"titleFontSize":17.5,"labelFontSize":18,"symbolType":"M-4,0H4","symbolSize":100,"symbolDash":[5,3.5],"symbolStrokeWidth":1.2,"symbolOffset":15,"labelOffset":16,"rowPadding":5,"titlePadding":5,"labelExpr":"'f=' + datum.label + 'mm'"}}}},
{"data":{"values":[{}]},"mark":{"type":"text","text":"M","fontSize":31,"angle":270,"align":"center","baseline":"middle"},"encoding":{"x":{"datum":-0.598,"type":"quantitative","scale":{"domain":[0,5.05],"nice":false,"zero":false},"axis":null},"y":{"datum":4.83,"type":"quantitative","scale":{"domain":[0,9.6],"nice":false,"zero":false},"axis":null}}},
{"data":{"values":[{}]},"mark":{"type":"text","text":"x","fontSize":17,"angle":270,"align":"center","baseline":"middle"},"encoding":{"x":{"datum":-0.43,"type":"quantitative","scale":{"domain":[0,5.05],"nice":false,"zero":false},"axis":null},"y":{"datum":5.37,"type":"quantitative","scale":{"domain":[0,9.6],"nice":false,"zero":false},"axis":null}}},
{"data":{"values":[{}]},"mark":{"type":"text","text":"2","fontSize":17,"angle":270,"align":"center","baseline":"middle"},"encoding":{"x":{"datum":-0.7,"type":"quantitative","scale":{"domain":[0,5.05],"nice":false,"zero":false},"axis":null},"y":{"datum":5.6,"type":"quantitative","scale":{"domain":[0,9.6],"nice":false,"zero":false},"axis":null}}},
{"data":{"values":[{}]},"mark":{"type":"text","text":"(a)","fontSize":30,"align":"center","baseline":"middle"},"encoding":{"x":{"datum":-0.671,"type":"quantitative","scale":{"domain":[0,5.05],"nice":false,"zero":false},"axis":null},"y":{"datum":-0.58,"type":"quantitative","scale":{"domain":[0,9.6],"nice":false,"zero":false},"axis":null}}}
]},
{"width":414,"height":297,"resolve":{"axis":{"x":"independent","y":"independent"}},
"layer":[
{"data":{"name":"eb"},"transform":[{"filter":"datum.s === 'f=300mm'"}],"mark":{"type":"errorbar","color":"#000000","ticks":{"size":6,"thickness":1.2},"thickness":1.2},
"encoding":{"x":{"field":"x","type":"quantitative","scale":{"domain":[0,5.05],"nice":false,"zero":false},"axis":null},"y":{"field":"v","type":"quantitative","scale":{"domain":[0,9.6],"nice":false,"zero":false},"axis":null},"yError":{"field":"e"}}},
{"data":{"name":"eb"},"transform":[{"filter":"datum.s === 'f=1000mm'"}],"mark":{"type":"errorbar","color":"#ff0000","ticks":{"size":6,"thickness":1.2},"thickness":1.2},
"encoding":{"x":{"field":"x","type":"quantitative","scale":{"domain":[0,5.05],"nice":false,"zero":false},"axis":null},"y":{"field":"v","type":"quantitative","scale":{"domain":[0,9.6],"nice":false,"zero":false},"axis":null},"yError":{"field":"e"}}},
{"data":{"name":"eb"},"mark":{"type":"point","filled":true,"opacity":1,"strokeWidth":0,"size":64},
"encoding":{"x":{"field":"x","type":"quantitative","scale":{"domain":[0,5.05],"nice":false,"zero":false},"axis":{"orient":"bottom","values":[0,0.5,1,1.5,2,2.5,3,3.5,4,4.5,5],"labelExpr":"datum.value % 1 === 0 ? format(datum.value,'d') : ''","title":null,"labelPadding":1}},
"y":{"field":"v","type":"quantitative","scale":{"domain":[0,9.6],"nice":false,"zero":false},"axis":{"orient":"left","values":[0,1,2,3,4,5,6,7,8,9],"labelExpr":"datum.value % 2 === 0 ? format(datum.value,'d') : ''","title":null,"labelPadding":2}},
"fill":{"field":"s","type":"nominal","scale":{"domain":["f=300mm","f=1000mm"],"range":["#000000","#ff0000"]},"legend":{"title":"Experimental data","orient":"none","legendX":22,"legendY":21,"titleFontSize":17.5,"labelFontSize":18,"symbolSize":80,"symbolOffset":11,"labelOffset":17,"rowPadding":5,"titlePadding":3,"symbolStrokeWidth":0}},
"shape":{"field":"s","type":"nominal","scale":{"domain":["f=300mm","f=1000mm"],"range":["square","circle"]},"legend":{"title":"Experimental data","orient":"none","legendX":22,"legendY":21,"titleFontSize":17.5,"labelFontSize":18,"symbolSize":80,"symbolOffset":11,"labelOffset":17,"rowPadding":5,"titlePadding":3,"symbolStrokeWidth":0}}}},
{"data":{"name":"nb"},"mark":{"type":"line","strokeDash":[5,3.5],"strokeWidth":1.2},
"encoding":{"x":{"field":"x","type":"quantitative","scale":{"domain":[0,5.05],"nice":false,"zero":false},"axis":{"orient":"top","values":[0.5,1,1.5,2,2.5,3,3.5,4,4.5,5],"labels":false,"title":null,"domain":false,"tickSize":-4}},
"y":{"field":"v","type":"quantitative","scale":{"domain":[0,9.6],"nice":false,"zero":false},"axis":{"orient":"right","values":[1,2,3,4,5,6,7,8,9],"labels":false,"title":null,"domain":false,"tickSize":-4}},
"stroke":{"field":"n","type":"nominal","scale":{"domain":["300","1000"],"range":["#000000","#ff0000"]},"legend":{"title":"Numericial results","orient":"none","legendX":246,"legendY":200,"titleFontSize":17.5,"labelFontSize":18,"symbolType":"M-4,0H4","symbolSize":100,"symbolDash":[5,3.5],"symbolStrokeWidth":1.2,"symbolOffset":15,"labelOffset":16,"rowPadding":5,"titlePadding":5,"labelExpr":"'f=' + datum.label + 'mm'"}}}},
{"data":{"values":[{}]},"mark":{"type":"text","text":"M","fontSize":31,"angle":270,"align":"center","baseline":"middle"},"encoding":{"x":{"datum":-0.598,"type":"quantitative","scale":{"domain":[0,5.05],"nice":false,"zero":false},"axis":null},"y":{"datum":5.39,"type":"quantitative","scale":{"domain":[0,9.6],"nice":false,"zero":false},"axis":null}}},
{"data":{"values":[{}]},"mark":{"type":"text","text":"y","fontSize":17,"angle":270,"align":"center","baseline":"middle"},"encoding":{"x":{"datum":-0.45,"type":"quantitative","scale":{"domain":[0,5.05],"nice":false,"zero":false},"axis":null},"y":{"datum":5.95,"type":"quantitative","scale":{"domain":[0,9.6],"nice":false,"zero":false},"axis":null}}},
{"data":{"values":[{}]},"mark":{"type":"text","text":"2","fontSize":17,"angle":270,"align":"center","baseline":"middle"},"encoding":{"x":{"datum":-0.7,"type":"quantitative","scale":{"domain":[0,5.05],"nice":false,"zero":false},"axis":null},"y":{"datum":6.18,"type":"quantitative","scale":{"domain":[0,9.6],"nice":false,"zero":false},"axis":null}}},
{"data":{"values":[{}]},"mark":{"type":"text","text":"(b)","fontSize":30,"align":"center","baseline":"middle"},"encoding":{"x":{"datum":-0.646,"type":"quantitative","scale":{"domain":[0,5.05],"nice":false,"zero":false},"axis":null},"y":{"datum":-0.44,"type":"quantitative","scale":{"domain":[0,9.6],"nice":false,"zero":false},"axis":null}}}
]},
{"width":414,"height":297,"resolve":{"axis":{"x":"independent","y":"independent"}},
"layer":[
{"data":{"name":"ec"},"transform":[{"filter":"datum.s === 'f=300mm'"}],"mark":{"type":"errorbar","color":"#000000","ticks":{"size":6,"thickness":1.2},"thickness":1.2},
"encoding":{"x":{"field":"x","type":"quantitative","scale":{"domain":[0,5.05],"nice":false,"zero":false},"axis":null},"y":{"field":"v","type":"quantitative","scale":{"domain":[0,9.6],"nice":false,"zero":false},"axis":null},"yError":{"field":"e"}}},
{"data":{"name":"ec"},"transform":[{"filter":"datum.s === 'f=1000mm'"}],"mark":{"type":"errorbar","color":"#ff0000","ticks":{"size":6,"thickness":1.2},"thickness":1.2},
"encoding":{"x":{"field":"x","type":"quantitative","scale":{"domain":[0,5.05],"nice":false,"zero":false},"axis":null},"y":{"field":"v","type":"quantitative","scale":{"domain":[0,9.6],"nice":false,"zero":false},"axis":null},"yError":{"field":"e"}}},
{"data":{"name":"ec"},"mark":{"type":"point","filled":true,"opacity":1,"strokeWidth":0,"size":64},
"encoding":{"x":{"field":"x","type":"quantitative","scale":{"domain":[0,5.05],"nice":false,"zero":false},"axis":{"orient":"bottom","values":[0,0.5,1,1.5,2,2.5,3,3.5,4,4.5,5],"labelExpr":"datum.value % 1 === 0 ? format(datum.value,'d') : ''","title":"α","titleFontSize":30,"titlePadding":-18,"labelPadding":1}},
"y":{"field":"v","type":"quantitative","scale":{"domain":[0,9.6],"nice":false,"zero":false},"axis":{"orient":"left","values":[0,1,2,3,4,5,6,7,8,9],"labelExpr":"datum.value % 2 === 0 ? format(datum.value,'d') : ''","title":null,"labelPadding":2}},
"fill":{"field":"s","type":"nominal","scale":{"domain":["f=300mm","f=1000mm"],"range":["#000000","#ff0000"]},"legend":{"title":"Experimental data","orient":"none","legendX":22,"legendY":22,"titleFontSize":17.5,"labelFontSize":18,"symbolSize":80,"symbolOffset":11,"labelOffset":17,"rowPadding":5,"titlePadding":3,"symbolStrokeWidth":0}},
"shape":{"field":"s","type":"nominal","scale":{"domain":["f=300mm","f=1000mm"],"range":["square","circle"]},"legend":{"title":"Experimental data","orient":"none","legendX":22,"legendY":22,"titleFontSize":17.5,"labelFontSize":18,"symbolSize":80,"symbolOffset":11,"labelOffset":17,"rowPadding":5,"titlePadding":3,"symbolStrokeWidth":0}}}},
{"data":{"name":"nc"},"mark":{"type":"line","strokeDash":[5,3.5],"strokeWidth":1.2},
"encoding":{"x":{"field":"x","type":"quantitative","scale":{"domain":[0,5.05],"nice":false,"zero":false},"axis":{"orient":"top","values":[0.5,1,1.5,2,2.5,3,3.5,4,4.5,5],"labels":false,"title":null,"domain":false,"tickSize":-4}},
"y":{"field":"v","type":"quantitative","scale":{"domain":[0,9.6],"nice":false,"zero":false},"axis":{"orient":"right","values":[1,2,3,4,5,6,7,8,9],"labels":false,"title":null,"domain":false,"tickSize":-4}},
"stroke":{"field":"n","type":"nominal","scale":{"domain":["300","1000"],"range":["#000000","#ff0000"]},"legend":{"title":"Numerical results","orient":"none","legendX":206,"legendY":187,"titleFontSize":17.5,"labelFontSize":18,"symbolType":"M-4,0H4","symbolSize":100,"symbolDash":[5,3.5],"symbolStrokeWidth":1.2,"symbolOffset":15,"labelOffset":16,"rowPadding":5,"titlePadding":5,"labelExpr":"'f=' + datum.label + 'mm'"}}}},
{"data":{"values":[{}]},"mark":{"type":"text","text":"M","fontSize":31,"angle":270,"align":"center","baseline":"middle"},"encoding":{"x":{"datum":-0.598,"type":"quantitative","scale":{"domain":[0,5.05],"nice":false,"zero":false},"axis":null},"y":{"datum":4.91,"type":"quantitative","scale":{"domain":[0,9.6],"nice":false,"zero":false},"axis":null}}},
{"data":{"values":[{}]},"mark":{"type":"text","text":"T","fontSize":17,"angle":270,"align":"center","baseline":"middle"},"encoding":{"x":{"datum":-0.43,"type":"quantitative","scale":{"domain":[0,5.05],"nice":false,"zero":false},"axis":null},"y":{"datum":5.5,"type":"quantitative","scale":{"domain":[0,9.6],"nice":false,"zero":false},"axis":null}}},
{"data":{"values":[{}]},"mark":{"type":"text","text":"2","fontSize":17,"angle":270,"align":"center","baseline":"middle"},"encoding":{"x":{"datum":-0.7,"type":"quantitative","scale":{"domain":[0,5.05],"nice":false,"zero":false},"axis":null},"y":{"datum":5.5,"type":"quantitative","scale":{"domain":[0,9.6],"nice":false,"zero":false},"axis":null}}},
{"data":{"values":[{}]},"mark":{"type":"text","text":"(c)","fontSize":30,"align":"center","baseline":"middle"},"encoding":{"x":{"datum":-0.585,"type":"quantitative","scale":{"domain":[0,5.05],"nice":false,"zero":false},"axis":null},"y":{"datum":-0.55,"type":"quantitative","scale":{"domain":[0,9.6],"nice":false,"zero":false},"axis":null}}}
]}
]
}
